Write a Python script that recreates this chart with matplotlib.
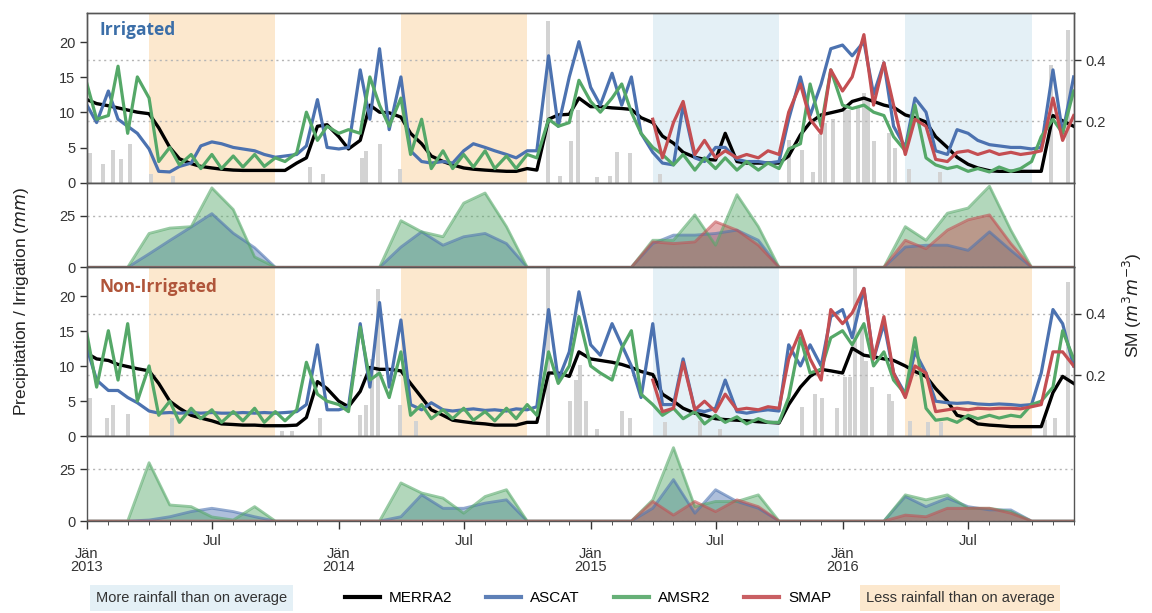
import numpy as np
import pandas as pd
import matplotlib
matplotlib.use('Agg')
import matplotlib.pyplot as plt
import matplotlib.dates as mdates
from matplotlib.lines import Line2D
from matplotlib.ticker import FuncFormatter

plt.rcParams['font.family'] = ['Liberation Sans', 'DejaVu Sans']

# soil moisture, read twice a month (1st / 15th), m3/m3
sm_dates = pd.date_range('2013-01-01', '2016-12-01', freq='SMS')
smap_dates = sm_dates[sm_dates >= '2015-04-01']

irr_merra2 = [.271, .258, .251, .244, .237, .230, .225, .179, .115, .078, .062, .053, .048, .044, .041, .040, .040, .040, .040, .040, .064, .081, .184, .189,
              .150, .110, .138, .253, .230, .228, .214, .161, .127, .087, .069, .058, .048, .044, .041, .039, .037, .037, .046, .041, .207, .221, .223, .276,
              .248, .248, .244, .242, .239, .212, .196, .152, .129, .099, .083, .076, .074, .161, .069, .064, .064, .064, .064, .087, .156, .196, .221, .228,
              .237, .265, .276, .265, .253, .246, .221, .212, .198, .150, .115, .083, .060, .048, .039, .037, .037, .037, .037, .037, .219, .202, .184]
irr_ascat = [.253, .196, .299, .207, .184, .161, .110, .037, .035, .053, .064, .120, .133, .127, .115, .110, .104, .092, .083, .087, .092, .120, .271, .115,
             .110, .115, .368, .207, .437, .173, .345, .104, .069, .064, .069, .064, .104, .127, .115, .104, .092, .081, .104, .104, .414, .184, .345, .460,
             .311, .253, .357, .253, .345, .161, .099, .064, .058, .253, .081, .069, .115, .115, .076, .069, .069, .064, .069, .207, .345, .219, .322, .437,
             .449, .414, .460, .288, .391, .184, .115, .276, .230, .104, .092, .173, .161, .138, .124, .120, .115, .115, .110, .115, .368, .161, .345]
irr_amsr2 = [.322, .207, .219, .380, .161, .345, .276, .069, .115, .058, .092, .046, .092, .046, .087, .051, .092, .053, .081, .069, .097, .230, .138, .184,
             .161, .173, .161, .345, .253, .184, .276, .092, .207, .046, .104, .046, .092, .051, .104, .046, .087, .046, .092, .081, .207, .184, .196, .334,
             .265, .230, .276, .322, .230, .161, .115, .092, .058, .092, .041, .081, .046, .081, .041, .069, .041, .064, .046, .110, .127, .322, .184, .368,
             .253, .242, .253, .230, .219, .150, .104, .253, .081, .058, .046, .053, .037, .046, .035, .051, .037, .046, .069, .150, .207, .161, .299]
irr_smap = [.207, .081, .196, .265, .092, .138, .081, .104, .081, .092, .081, .104, .092, .230, .322, .207, .161, .368,
            .299, .345, .483, .253, .391, .253, .092, .207, .184, .076, .069, .099, .104, .092, .104, .092, .099, .092, .097, .104, .276, .138, .219]

non_merra2 = [.271, .253, .248, .235, .228, .221, .214, .173, .115, .092, .069, .060, .051, .041, .039, .037, .037, .035, .035, .035, .037, .062, .179, .156,
              .115, .097, .147, .225, .219, .219, .214, .173, .127, .087, .069, .053, .048, .044, .041, .037, .037, .037, .046, .046, .207, .207, .196, .276,
              .253, .248, .242, .235, .225, .212, .202, .138, .115, .092, .076, .069, .058, .055, .053, .051, .048, .046, .044, .104, .161, .196, .219, .214,
              .207, .288, .265, .260, .253, .248, .230, .212, .196, .156, .115, .069, .060, .041, .037, .035, .032, .032, .032, .032, .143, .196, .173]
non_ascat = [.288, .184, .150, .150, .127, .110, .083, .076, .078, .076, .078, .076, .078, .076, .076, .078, .076, .078, .076, .078, .081, .104, .299, .087,
             .087, .097, .368, .161, .437, .161, .380, .104, .087, .110, .087, .083, .087, .090, .085, .087, .083, .090, .087, .097, .414, .184, .276, .472,
             .299, .265, .368, .299, .230, .127, .368, .104, .104, .253, .087, .081, .092, .184, .081, .076, .083, .087, .083, .299, .230, .299, .230, .391,
             .414, .322, .483, .253, .368, .207, .138, .276, .207, .115, .110, .108, .110, .106, .104, .106, .104, .101, .104, .207, .414, .368, .230]
non_amsr2 = [.334, .161, .345, .184, .368, .115, .230, .069, .115, .046, .092, .058, .087, .046, .081, .051, .092, .046, .081, .051, .087, .242, .138, .115,
             .104, .081, .357, .184, .207, .127, .276, .069, .104, .058, .087, .058, .092, .053, .081, .051, .092, .058, .104, .069, .276, .173, .230, .391,
             .230, .207, .184, .288, .345, .138, .104, .069, .092, .058, .081, .041, .069, .046, .064, .041, .058, .046, .046, .127, .322, .207, .219, .322,
             .345, .299, .368, .230, .276, .184, .138, .322, .092, .053, .058, .046, .069, .058, .069, .060, .069, .064, .104, .115, .161, .345, .253]
non_smap = [.184, .081, .092, .242, .087, .115, .081, .138, .087, .092, .087, .097, .092, .253, .345, .253, .184, .414,
            .368, .403, .483, .253, .391, .207, .127, .230, .207, .081, .087, .092, .087, .092, .090, .092, .092, .090, .097, .104, .276, .276, .230]

# precipitation (mm)
irr_rain_dates = ['2013-01-05', '2013-01-24', '2013-02-08', '2013-02-19', '2013-03-04', '2013-04-04', '2013-05-06',
                  '2013-11-20', '2013-12-09', '2014-02-04', '2014-02-09', '2014-03-02', '2014-03-31', '2014-10-31',
                  '2014-11-17', '2014-12-03', '2014-12-14', '2015-01-10', '2015-01-29', '2015-02-08', '2015-02-27',
                  '2015-04-11', '2015-10-15', '2015-11-03', '2015-11-19', '2015-11-29', '2015-12-07', '2015-12-18',
                  '2016-01-05', '2016-01-10', '2016-01-23', '2016-02-01', '2016-02-07', '2016-02-16', '2016-03-08',
                  '2016-03-17', '2016-04-06', '2016-05-21', '2016-10-29', '2016-11-23']
irr_rain = [4.2, 2.6, 4.7, 3.4, 5.5, 1.3, 1.0, 2.3, 1.3, 3.5, 4.5, 5.5, 2.0, 23.1,
            1.0, 6.0, 10.4, 0.8, 1.0, 4.4, 4.2, 1.2, 6.1, 4.7, 1.5, 7.0, 8.5, 9.0,
            10.4, 10.4, 10.8, 12.8, 11.8, 6.0, 7.1, 5.0, 2.0, 1.5, 16.7, 21.7]
non_rain_dates = ['2013-01-05', '2013-01-30', '2013-02-08', '2013-03-01', '2013-05-04', '2013-10-11', '2013-10-25',
                  '2013-12-05', '2014-02-01', '2014-02-09', '2014-02-18', '2014-02-27', '2014-03-31', '2014-04-23',
                  '2014-10-31', '2014-12-02', '2014-12-11', '2014-12-16', '2014-12-25', '2015-01-10', '2015-02-15',
                  '2015-02-27', '2015-04-19', '2015-06-08', '2015-07-07', '2015-11-03', '2015-11-22', '2015-12-02',
                  '2015-12-24', '2016-01-05', '2016-01-12', '2016-01-19', '2016-01-29', '2016-02-04', '2016-02-13',
                  '2016-03-08', '2016-03-13', '2016-04-08', '2016-05-04', '2016-05-23', '2016-10-20', '2016-11-04',
                  '2016-11-23']
non_rain = [5.5, 2.6, 4.5, 3.2, 2.6, 0.8, 0.8, 2.6, 3.0, 4.5, 11.0, 21.0, 4.5, 2.2,
            24.5, 5.0, 8.0, 10.2, 5.0, 1.0, 3.6, 2.6, 2.0, 2.2, 1.0, 4.2, 6.0, 5.5,
            4.0, 8.4, 8.4, 24.0, 15.5, 10.8, 7.0, 6.0, 5.0, 2.2, 2.0, 2.0, 2.3, 2.6, 22.0]

# irrigation (mm), monthly
irr_months = pd.date_range('2013-01-01', '2016-12-01', freq='MS')
z = [0, 0, 0]
irrig_ascat = z + [6.5, 13, 19.5, 26, 16.5, 9.5] + z + z + [9.8, 17.2, 10.7, 14.8, 16.4, 11.5] + z + \
              z + [11.5, 15.6, 15.6, 16.4, 18, 13.1] + z + z + [9.8, 10.7, 10.7, 8.2, 17.2, 8.2] + z
irrig_amsr2 = z + [16.4, 19, 19.7, 38.5, 28, 5] + z + z + [22.6, 17.2, 14.8, 31.1, 36, 19.7] + z + \
              z + [13.1, 13.1, 25.4, 10.7, 35.2, 19.7] + z + z + [19.7, 13.1, 26.2, 28.7, 39.3, 18] + z
irrig_smap = [0] * 24 + z + [12.3, 11.5, 12.3, 22.1, 18, 10.7] + z + z + [13.1, 9, 18, 23, 25.4, 11.5] + z
nonirr_ascat = z + [0.5, 2.1, 4.6, 6.2, 4.6, 2.1] + z + z + [2.1, 12.7, 6.2, 6.2, 8.7, 10.3] + z + \
               z + [6.2, 20.1, 3.8, 15.2, 9.5, 6.2] + z + z + [11.9, 7.0, 11.1, 7.0, 5.4, 5.4] + z
nonirr_amsr2 = z + [28.3, 7.8, 7.0, 2.0, 0.5, 7.0] + z + z + [18.5, 13.6, 11.1, 3.8, 11.9, 15.2] + z + \
               z + [10.3, 35.6, 7.0, 9.5, 9.5, 12.7] + z + z + [12.7, 10.3, 12.7, 6.2, 6.2, 4.6] + z
nonirr_smap = [0] * 24 + z + [9.5, 2.9, 9.5, 4.6, 10.3, 7.0] + z + z + [2.9, 2.1, 6.2, 6.2, 6.2, 3.8] + z

seasons = [('2013-04-01', '2013-10-01'), ('2014-04-01', '2014-10-01'),
           ('2015-04-01', '2015-10-01'), ('2016-04-01', '2016-10-01')]
irr_season_wet = [False, False, True, True]
non_season_wet = [False, False, True, False]

C_MERRA, C_ASCAT, C_AMSR, C_SMAP = 'black', '#4c72b0', '#55a868', '#c44e52'
WET, DRY = '#e4f0f6', '#fce8ce'
SPINE = '#555555'

fig = plt.figure(figsize=(11.52, 6.13), dpi=100)
gs = fig.add_gridspec(4, 1, height_ratios=[2, 1, 2, 1], left=0.0755, right=0.932,
                      top=0.978, bottom=0.150, hspace=0)
axes = [fig.add_subplot(gs[i]) for i in range(4)]
for a in axes[1:]:
    a.sharex(axes[0])

def style(a):
    for s in a.spines.values():
        s.set_color(SPINE)
        s.set_linewidth(1.0)
    a.tick_params(axis='both', colors='#333333', labelsize=10.5, length=5, width=1)

def sm_panel(a, rain_d, rain_v, wet, merra, ascat, amsr, smap):
    for (s, e), w in zip(seasons, wet):
        a.axvspan(pd.Timestamp(s), pd.Timestamp(e), color=WET if w else DRY, lw=0, zorder=0)
    a.bar(pd.to_datetime(rain_d), rain_v, width=6, color='#d3d3d3', lw=0, zorder=1)
    a.set_ylim(0, 24.1)
    a.set_yticks([0, 5, 10, 15, 20])
    b = a.twinx()
    b.plot(sm_dates, merra, color=C_MERRA, lw=2.4)
    b.plot(sm_dates, ascat, color=C_ASCAT, lw=2.3)
    b.plot(sm_dates, amsr, color=C_AMSR, lw=2.3)
    b.plot(smap_dates, smap, color=C_SMAP, lw=2.3)
    b.set_ylim(0, 0.552)
    b.set_yticks([0.2, 0.4])
    b.grid(axis='y', ls=(0, (1.5, 2.5)), color='#b5b5b5', lw=1.0)
    style(b)
    return b

def irr_panel(a, ascat, amsr, smap):
    for vals, c in [(ascat, C_ASCAT), (amsr, C_AMSR), (smap, C_SMAP)]:
        a.fill_between(irr_months, vals, color=c, alpha=0.45, lw=0)
        a.plot(irr_months, vals, color=c, alpha=0.6, lw=2)
    a.set_ylim(0, 41)
    a.set_yticks([0, 25])
    a.grid(axis='y', ls=(0, (1.5, 2.5)), color='#b5b5b5', lw=1.0)
    a.set_axisbelow(True)

b0 = sm_panel(axes[0], irr_rain_dates, irr_rain, irr_season_wet, irr_merra2, irr_ascat, irr_amsr2, irr_smap)
irr_panel(axes[1], irrig_ascat, irrig_amsr2, irrig_smap)
b2 = sm_panel(axes[2], non_rain_dates, non_rain, non_season_wet, non_merra2, non_ascat, non_amsr2, non_smap)
irr_panel(axes[3], nonirr_ascat, nonirr_amsr2, nonirr_smap)

for a in axes:
    style(a)
    a.set_xlim(pd.Timestamp('2013-01-01'), pd.Timestamp('2016-12-01'))
for a in axes[:3]:
    a.tick_params(axis='x', which='both', bottom=False, labelbottom=False)

ax = axes[3]
ax.xaxis.set_major_locator(mdates.MonthLocator(bymonth=[1, 7]))
ax.xaxis.set_minor_locator(mdates.MonthLocator())
ax.xaxis.set_major_formatter(FuncFormatter(
    lambda v, p: ('\nJän\n%d' % mdates.num2date(v).year) if mdates.num2date(v).month == 1 else 'Jul'))
ax.tick_params(axis='x', which='major', length=6, pad=3)
ax.tick_params(axis='x', which='minor', length=3, color='#333333')

axes[0].text(0.013, 0.9, 'Irrigated', transform=axes[0].transAxes, color='#3b6ea8',
             fontsize=12.5, fontweight='bold', va='center', family=['Open Sans', 'DejaVu Sans'], zorder=5)
axes[2].text(0.013, 0.885, 'Non-Irrigated', transform=axes[2].transAxes, color='#b0553a',
             fontsize=12.5, fontweight='bold', va='center', family=['Open Sans', 'DejaVu Sans'], zorder=5)

fig.text(0.019, 1 - 302 / 613, 'Precipitation / Irrigation ($mm$)', rotation=90,
         ha='center', va='center', fontsize=12.5, color='#222222')
fig.text(0.983, 1 - 305 / 613, 'SM ($m^3m^{-3}$)', rotation=90,
         ha='center', va='center', fontsize=12.5, color='#222222')

handles = [Line2D([], [], color=c, lw=3, alpha=a) for c, a in
           [(C_MERRA, 1), (C_ASCAT, 0.9), (C_AMSR, 0.9), (C_SMAP, 0.9)]]
fig.legend(handles, ['MERRA2', 'ASCAT', 'AMSR2', 'SMAP'], loc='center',
           bbox_to_anchor=(588 / 1152, 1 - 598 / 613), ncol=4, frameon=False,
           fontsize=11, handlelength=2.3, handletextpad=0.6, columnspacing=2.2)
fig.text(96 / 1152, 1 - 598 / 613, 'More rainfall than on average', va='center', ha='left',
         fontsize=10.5, color='#333333', bbox=dict(facecolor=WET, edgecolor='none', pad=4))
fig.text(866 / 1152, 1 - 598 / 613, 'Less rainfall than on average', va='center', ha='left',
         fontsize=10.5, color='#333333', bbox=dict(facecolor=DRY, edgecolor='none', pad=4))

# tighten the two-line year labels a little
fig.canvas.draw()
for t in ax.get_xticklabels():
    t.set_linespacing(0.95)

fig.savefig('out.png', dpi=100)
